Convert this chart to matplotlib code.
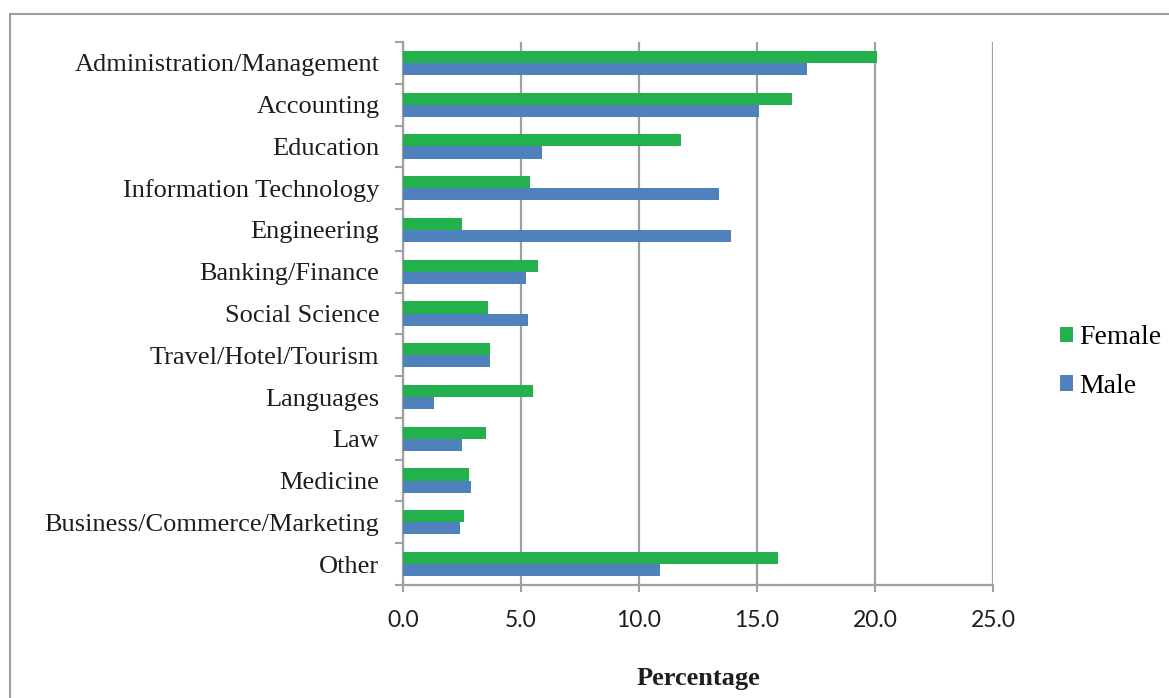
import matplotlib
matplotlib.use("Agg")
import matplotlib.pyplot as plt
from matplotlib.patches import Rectangle
import numpy as np

categories = [
    "Administration/Management", "Accounting", "Education",
    "Information Technology", "Engineering", "Banking/Finance",
    "Social Science", "Travel/Hotel/Tourism", "Languages", "Law",
    "Medicine", "Business/Commerce/Marketing", "Other",
]
female = [20.1, 16.5, 11.8, 5.4, 2.5, 5.7, 3.6, 3.7, 5.5, 3.5, 2.8, 2.6, 15.9]
male = [17.1, 15.1, 5.9, 13.4, 13.9, 5.2, 5.3, 3.7, 1.3, 2.5, 2.9, 2.4, 10.9]
x_ticks = [0, 5, 10, 15, 20, 25]

GREEN = "#23B14D"
BLUE = "#4F81BD"
GRAY = "#A0A0A0"
TEXT = "#1E1E1E"
SERIF = ["Liberation Serif", "DejaVu Serif"]

W, H = 1169, 698
fig = plt.figure(figsize=(W / 100, H / 100), dpi=100)

# outer frame
fig.patches.append(Rectangle((10 / W, -0.05), 1.2, 1 - 14 / H + 0.05,
                             transform=fig.transFigure, fill=False,
                             edgecolor=GRAY, linewidth=1.5))

ax = fig.add_axes([403 / W, 1 - 585 / H, 590 / W, 543 / H])
y = np.arange(len(categories))
h = 0.29
ax.barh(y - h / 2, female, height=h, color=GREEN, label="Female", zorder=3)
ax.barh(y + h / 2, male, height=h, color=BLUE, label="Male", zorder=3)

ax.set_xlim(0, 25)
ax.set_ylim(len(categories) - 0.5, -0.5)
ax.set_xticks(x_ticks)
ax.set_xticklabels([f"{v:.1f}" for v in x_ticks], family="Lato", fontsize=16.5,
                   color=TEXT)
ax.set_yticks(y)
ax.set_yticklabels(categories, family=SERIF, fontsize=19, color=TEXT)
ax.set_yticks(np.arange(-0.5, len(categories), 1), minor=True)

ax.tick_params(axis="y", which="major", length=0, pad=17)
ax.tick_params(axis="y", which="minor", length=6, width=1.5, color=GRAY)
ax.tick_params(axis="x", which="major", length=5, width=1.5, color=GRAY, pad=13)

ax.grid(axis="x", color=GRAY, linewidth=1.6, zorder=0)
for side in ("top", "right"):
    ax.spines[side].set_visible(False)
for side in ("left", "bottom"):
    ax.spines[side].set_color(GRAY)
    ax.spines[side].set_linewidth(1.6)

fig.text(698 / W, 1 - 678 / H, "Percentage", family=SERIF, fontsize=19,
         fontweight="bold", ha="center", va="center", color=TEXT)

fig.legend(loc="center left", bbox_to_anchor=(1046 / W, 1 - 362 / H),
           frameon=False, prop={"family": SERIF, "size": 20},
           handlelength=0.48, handleheight=0.48, handletextpad=0.22,
           labelspacing=0.85, borderpad=0)

fig.savefig("out.png", dpi=100)
